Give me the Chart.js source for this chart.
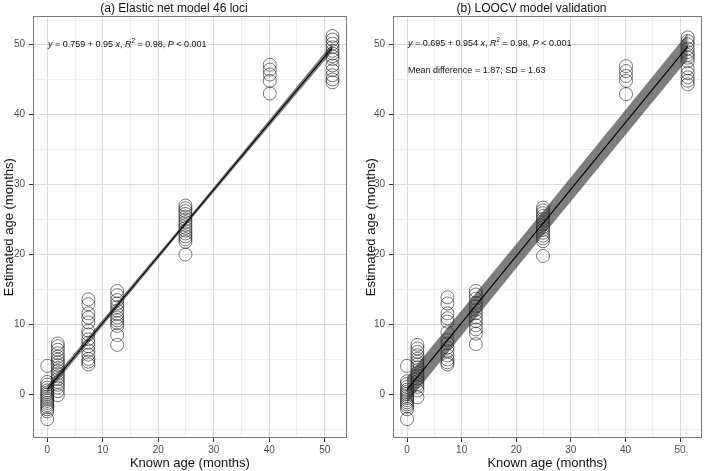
<!DOCTYPE html>
<html>
<head>
<meta charset="utf-8">
<script src="https://cdn.jsdelivr.net/npm/chart.js@4/dist/chart.umd.min.js"></script>
<style>
  html, body { margin: 0; padding: 0; background: #fff; }
  #wrap { position: relative; width: 709px; height: 471px; }
  .panel { position: absolute; top: 0; width: 354px; height: 471px; }
  #pa { left: 0; }
  #pb { left: 355px; }
</style>
</head>
<body>
<div id="wrap">
  <div class="panel" id="pa"><canvas id="ca"></canvas></div>
  <div class="panel" id="pb"><canvas id="cb"></canvas></div>
</div>
<script>
// ---------- data ----------
const knownAges = [0, 1.9, 7.4, 12.6, 24.9, 40.1, 51.4];

// (a) Elastic net model: estimated ages per known-age group
const elasticEstimates = [
  [4.1, 1.8, 1.4, 1.0, 0.6, 0.3, 0.0, -0.3, -0.6, -0.9, -1.2, -1.5, -1.8, -2.1, -2.4, -3.5],
  [7.3, 6.9, 6.4, 5.9, 5.4, 5.0, 4.6, 4.2, 3.8, 3.4, 3.0, 2.6, 2.2, 1.8, 1.4, 1.0, 0.5, -0.1],
  [13.6, 12.9, 11.6, 11.0, 10.3, 9.1, 8.6, 7.9, 7.4, 6.9, 6.3, 5.7, 5.1, 4.7, 4.3],
  [14.8, 14.2, 13.5, 13.0, 12.5, 12.0, 11.5, 11.0, 10.6, 10.2, 9.8, 8.5, 7.1],
  [27.0, 26.6, 26.2, 25.8, 25.4, 25.0, 24.6, 24.2, 23.8, 23.4, 23.0, 22.6, 22.2, 21.8, 20.0],
  [47.1, 46.4, 45.7, 44.8, 43.0],
  [51.2, 50.7, 50.1, 49.6, 49.1, 48.7, 48.3, 47.9, 47.0, 46.3, 45.6, 45.0, 44.6]
];

// (b) LOOCV validation: estimated ages per known-age group
const loocvEstimates = [
  [4.1, 1.9, 1.5, 1.1, 0.7, 0.4, 0.1, -0.2, -0.5, -0.8, -1.1, -1.4, -1.7, -2.1, -3.5],
  [7.1, 6.6, 6.1, 5.6, 5.1, 4.7, 4.3, 3.9, 3.5, 3.1, 2.7, 2.3, 1.9, 1.5, 1.1, 0.6, -0.4],
  [13.9, 13.0, 11.6, 10.9, 10.4, 8.9, 7.8, 7.3, 6.7, 6.2, 5.6, 5.0, 4.6, 4.3],
  [14.8, 14.3, 13.7, 13.1, 12.6, 12.1, 11.6, 11.0, 10.5, 9.9, 9.3, 8.7, 7.2],
  [26.7, 26.3, 25.9, 25.5, 25.1, 24.7, 24.3, 23.9, 23.5, 23.1, 22.7, 22.3, 21.9, 19.8],
  [46.9, 46.2, 45.5, 44.8, 42.9],
  [51.0, 50.5, 50.0, 49.4, 48.9, 48.5, 48.1, 47.6, 46.6, 45.9, 45.3, 44.8, 44.3]
];

// fitted lines and their bands
const fitX = [0, 24.9, 51.4];
const fitLineA = [0.76, 24.41, 49.59];
const bandUpperA = [1.31, 24.72, 50.15];
const bandLowerA = [0.21, 24.10, 49.03];
const fitLineB = [0.70, 24.45, 49.73];
const bandUpperB = [2.55, 26.15, 51.58];
const bandLowerB = [-1.15, 22.75, 47.88];

// text
const panelTitles = ['(a) Elastic net model 46 loci', '(b) LOOCV model validation'];
const xTitle = 'Known age (months)';
const yTitle = 'Estimated age (months)';
const eqA = [{t:'y',i:1},{t:' = 0.759 + 0.95 '},{t:'x',i:1},{t:', '},{t:'R',i:1},{t:'2',s:1},{t:' = 0.98, '},{t:'P',i:1},{t:' < 0.001'}];
const eqB = [{t:'y',i:1},{t:' = 0.695 + 0.954 '},{t:'x',i:1},{t:', '},{t:'R',i:1},{t:'2',s:1},{t:' = 0.98, '},{t:'P',i:1},{t:' < 0.001'}];
const meanDiffB = [{t:'Mean difference = 1.87; SD = 1.63'}];

// ---------- helpers ----------
const FONT = "'Liberation Sans', Arial, Helvetica, sans-serif";
function toPoints(xs, ys) { return xs.map((x, k) => ({x: x, y: ys[k]})); }
function scatterPoints(ages, groups) {
  const pts = [];
  groups.forEach((g, k) => g.forEach(v => pts.push({x: ages[k], y: v})));
  return pts;
}

const borderPlugin = {
  id: 'panelBorder',
  afterDatasetsDraw(chart) {
    const a = chart.chartArea, ctx = chart.ctx;
    ctx.save();
    ctx.strokeStyle = '#7a7a7a';
    ctx.lineWidth = 1;
    ctx.strokeRect(Math.round(a.left) + 0.5, Math.round(a.top) + 0.5,
                   Math.round(a.right - a.left) - 1, Math.round(a.bottom - a.top) - 1);
    ctx.restore();
  }
};

function drawRich(ctx, segs, x, y, size) {
  let cx = x;
  segs.forEach(sg => {
    const fs = sg.s ? size * 0.7 : size;
    ctx.font = (sg.i ? 'italic ' : '') + fs + 'px ' + FONT;
    ctx.fillText(sg.t, cx, sg.s ? y - size * 0.38 : y);
    cx += ctx.measureText(sg.t).width;
  });
}

function makeAnnot(lines) {
  return {
    id: 'annot',
    afterDraw(chart) {
      const a = chart.chartArea, ctx = chart.ctx;
      ctx.save();
      ctx.fillStyle = '#111';
      ctx.textBaseline = 'middle';
      ctx.textAlign = 'left';
      lines.forEach(l => drawRich(ctx, l.segs, a.left + l.dx, a.top + l.dy, 9));
      ctx.restore();
    }
  };
}

function axisCfg(isX, yWidth, titlePad) {
  return {
    type: 'linear',
    min: isX ? -2.57 : -6.2,
    max: isX ? 53.97 : 54.0,
    ticks: {
      stepSize: 5,
      includeBounds: false,
      autoSkip: false,
      maxRotation: 0,
      padding: isX ? 2 : 4,
      color: '#4d4d4d',
      font: {family: FONT, size: 10},
      callback: v => (Math.abs(v % 10) < 1e-9 ? String(v) : '')
    },
    grid: {
      drawTicks: true,
      tickLength: 4,
      color: c => (Math.abs(c.tick.value % 10) < 1e-9 ? '#dadada' : '#ebebeb'),
      lineWidth: c => (Math.abs(c.tick.value % 10) < 1e-9 ? 1 : 0.8),
      tickColor: c => (Math.abs(c.tick.value % 10) < 1e-9 ? '#333333' : 'rgba(0,0,0,0)'),
      tickWidth: 1
    },
    border: {display: false},
    title: {
      display: true,
      text: isX ? xTitle : yTitle,
      color: '#111',
      font: {family: FONT, size: 13},
      padding: isX ? {top: 0, bottom: 0} : {top: titlePad, bottom: 0}
    },
    afterFit: s => { if (isX) s.height = 33; else s.width = yWidth; }
  };
}

function makeChart(id, title, groups, line, up, lo, yWidth, titlePad, padRight, annot) {
  return new Chart(document.getElementById(id), {
    type: 'scatter',
    data: {
      datasets: [
        {data: toPoints(fitX, line), showLine: true, borderColor: '#000', borderWidth: 1.1,
         pointRadius: 0, fill: false},
        {data: toPoints(fitX, up), showLine: true, borderWidth: 0, borderColor: 'rgba(0,0,0,0)',
         pointRadius: 0, fill: '+1', backgroundColor: 'rgba(40,40,40,0.6)'},
        {data: toPoints(fitX, lo), showLine: true, borderWidth: 0, borderColor: 'rgba(0,0,0,0)',
         pointRadius: 0, fill: false},
        {data: scatterPoints(knownAges, groups), showLine: false, pointStyle: 'circle',
         pointRadius: 6.5, pointBorderWidth: 0.75, borderColor: 'rgba(0,0,0,0.7)',
         pointBorderColor: 'rgba(0,0,0,0.7)', backgroundColor: 'rgba(0,0,0,0)',
         pointBackgroundColor: 'rgba(0,0,0,0)'}
      ]
    },
    options: {
      responsive: true,
      maintainAspectRatio: false,
      animation: false,
      events: [],
      layout: {padding: {left: 0, right: padRight, top: 0, bottom: 0}},
      plugins: {
        legend: {display: false},
        tooltip: {enabled: false},
        title: {display: true, text: title, color: '#111',
                font: {family: FONT, size: 12, weight: 'normal'},
                padding: {top: 1, bottom: 1}}
      },
      scales: {x: axisCfg(true, 0, 0), y: axisCfg(false, yWidth, titlePad)}
    },
    plugins: [borderPlugin, annot]
  });
}

makeChart('ca', panelTitles[0], elasticEstimates, fitLineA, bandUpperA, bandLowerA, 33, 2, 6,
  makeAnnot([{segs: eqA, dx: 15, dy: 28}]));
makeChart('cb', panelTitles[1], loocvEstimates, fitLineB, bandUpperB, bandLowerB, 38, 9, 1,
  makeAnnot([{segs: eqB, dx: 15, dy: 27}, {segs: meanDiffB, dx: 15, dy: 54}]));
</script>
</body>
</html>
